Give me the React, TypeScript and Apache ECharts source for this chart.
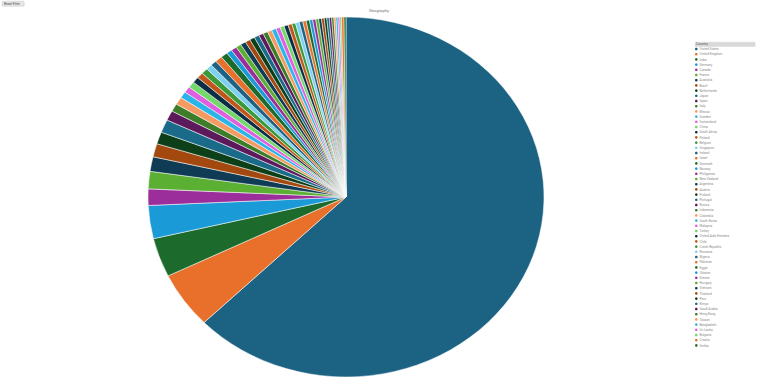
import React, { useEffect, useRef } from "react";
import * as echarts from "echarts";

const titleText = "Geography";
const legendHeader = "Country";
const resetLabel = "Reset Filter";

const countries = [
  "United States", "United Kingdom", "India", "Germany", "Canada", "France", "Australia", "Brazil",
  "Netherlands", "Japan", "Spain", "Italy", "Mexico", "Sweden", "Switzerland", "China",
  "South Africa", "Poland", "Belgium", "Singapore", "Ireland", "Israel", "Denmark", "Norway",
  "Philippines", "New Zealand", "Argentina", "Austria", "Finland", "Portugal", "Russia", "Indonesia",
  "Colombia", "South Korea", "Malaysia", "Turkey", "United Arab Emirates", "Chile", "Czech Republic", "Romania",
  "Nigeria", "Pakistan", "Egypt", "Ukraine", "Greece", "Hungary", "Vietnam", "Thailand",
  "Peru", "Kenya", "Saudi Arabia", "Hong Kong", "Taiwan", "Bangladesh", "Sri Lanka", "Bulgaria",
  "Croatia", "Serbia",
];

const sales = [
  62.72, 5.06, 3.5, 2.97, 1.47, 1.56, 1.31, 1.19, 1.08, 1.17, 0.89,
  0.71, 0.68, 0.59, 0.55, 0.56, 0.53, 0.52, 0.54, 0.49, 0.5,
  0.58, 0.57, 0.45, 0.46, 0.43, 0.44, 0.41, 0.42, 0.4, 0.38,
  0.39, 0.36, 0.37, 0.35, 0.33, 0.34, 0.32, 0.3, 0.31, 0.29,
  0.28, 0.27, 0.26, 0.25, 0.24, 0.23, 0.22, 0.21, 0.2, 0.19,
  0.18, 0.17, 0.16, 0.15, 0.14, 0.2, 0.16,
];

const palette = [
  "#1b6283", "#e8702a", "#1d6b2c", "#1a9bd7", "#9c2e9c", "#5bb034", "#0f3b54", "#a3480f",
  "#0d4019", "#1a6a8a", "#5c1a5c", "#3d7d2a", "#f49a63", "#2ab4e8", "#e05ee0", "#72d86a",
  "#0a2f45", "#c0561a", "#3a9a3a", "#7fd0f0",
];
const tailColors = ["#e8702a", "#1d6b2c"];

function buildData() {
  const n = Math.min(countries.length, sales.length);
  const data = [] as any[];
  for (let i = 0; i < n; i++) {
    let color = palette[i % palette.length];
    if (i === n - 2) color = tailColors[0];
    if (i === n - 1) color = tailColors[1];
    data.push({ name: countries[i], value: sales[i], itemStyle: { color } });
  }
  return data;
}

export default function App() {
  const pieRef = useRef<HTMLDivElement>(null);
  const overRef = useRef<HTMLDivElement>(null);
  useEffect(() => {
    document.body.style.margin = "0";
    if (!pieRef.current || !overRef.current) return;
    const data = buildData();
    const pie = echarts.init(pieRef.current, undefined, { renderer: "svg" });
    pie.setOption({
      animation: false,
      series: [
        {
          type: "pie",
          center: [346, 197],
          radius: [0, 180],
          startAngle: 90,
          clockwise: true,
          avoidLabelOverlap: false,
          label: { show: false },
          labelLine: { show: false },
          emphasis: { disabled: true },
          itemStyle: { borderColor: "#fff", borderWidth: 0.5 },
          data,
        },
      ],
    });
    const over = echarts.init(overRef.current, undefined, { renderer: "svg" });
    over.setOption({
      animation: false,
      title: {
        text: titleText,
        left: "center",
        top: 8,
        padding: 0,
        textStyle: { fontSize: 4.2, fontWeight: "normal", color: "#777", fontFamily: "Roboto" },
      },
      legend: {
        type: "plain",
        orient: "vertical",
        left: 695,
        top: 47.5,
        bottom: 0,
        icon: "circle",
        itemWidth: 2.6,
        itemHeight: 2.6,
        itemGap: 2.2,
        padding: 0,
        textStyle: { fontSize: 3.2, color: "#888", lineHeight: 3, fontFamily: "Roboto", padding: [0, 0, 0, -3] },
      },
      graphic: [
        {
          type: "rect",
          left: 2,
          top: 1,
          shape: { width: 22, height: 5, r: 0.8 },
          style: { fill: "#e6e6e6", stroke: "#bbb", lineWidth: 0.4 },
        },
        {
          type: "text",
          left: 4,
          top: 2,
          style: { text: resetLabel, fontSize: 3.2, fill: "#444", fontFamily: "Roboto" },
        },
        {
          type: "rect",
          left: 695,
          top: 42,
          shape: { width: 60, height: 4.4 },
          style: { fill: "#d9d9d9", stroke: "#c8c8c8", lineWidth: 0.3 },
        },
        {
          type: "text",
          left: 696,
          top: 42.6,
          style: { text: legendHeader, fontSize: 3.4, fill: "#555", fontFamily: "Roboto" },
        },
      ],
      series: [
        {
          type: "pie",
          center: [-500, -500],
          radius: [0, 1],
          silent: true,
          label: { show: false },
          labelLine: { show: false },
          data,
        },
      ],
    });
    return () => {
      pie.dispose();
      over.dispose();
    };
  }, []);
  return (
    <div style={{ position: "relative", width: 758, height: 380, overflow: "hidden" }}>
      <div
        ref={pieRef}
        style={{
          position: "absolute",
          left: 0,
          top: 0,
          width: 758,
          height: 380,
          transform: "scaleX(1.1)",
          transformOrigin: "346px 197px",
        }}
      />
      <div ref={overRef} style={{ position: "absolute", left: 0, top: 0, width: 758, height: 380 }} />
    </div>
  );
}
